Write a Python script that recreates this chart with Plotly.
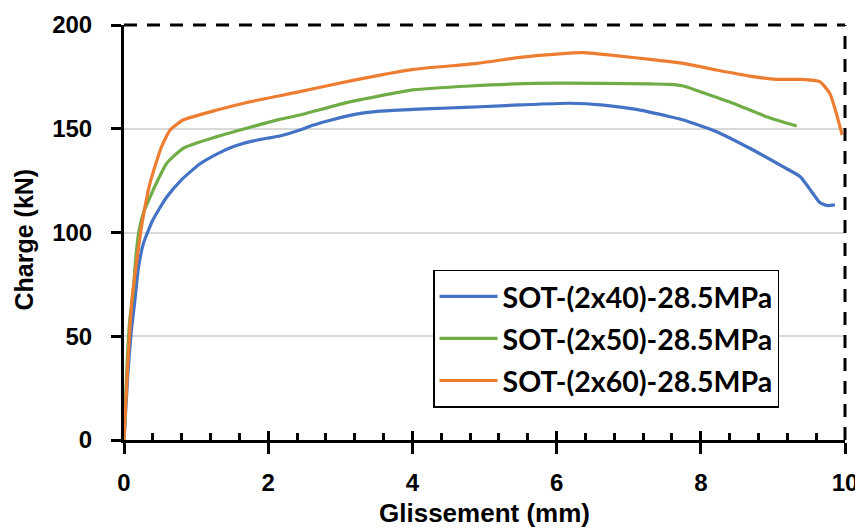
import plotly.graph_objects as go

# ---- data ----
x_blue = [0, 0.05, 0.1, 0.15, 0.2, 0.27, 0.4, 0.59, 0.8, 1.05, 1.3, 1.51, 1.75, 1.98, 2.16, 2.44,
          2.63, 2.85, 3.09, 3.3, 3.55, 4.01, 4.5, 4.94, 5.5, 6.19, 6.65, 7.11, 7.57, 7.76, 8.22,
          8.68, 9.14, 9.38, 9.51, 9.65, 9.75, 9.86]
y_blue = [0, 30, 52, 67, 83, 94.8, 106, 117, 125.5, 133, 138, 141.3, 143.8, 145.4, 146.5, 149.4,
          151.8, 154, 156.1, 157.5, 158.5, 159.3, 160, 160.6, 161.5, 162.3, 161.4, 159.3, 155.8, 154.2, 148.6,
          140.6, 131.7, 126.9, 121, 114.5, 113, 113.3]

x_green = [0, 0.04, 0.08, 0.13, 0.153, 0.2, 0.27, 0.36, 0.48, 0.59, 0.82, 1.29, 1.75, 2.16, 2.44,
           3.09, 4.01, 4.8, 5.72, 6.65, 7.3, 7.57, 7.76, 7.99, 8.45, 8.91, 9.33]
y_green = [0, 35, 58, 72, 83.5, 99, 109.5, 117, 126, 133.3, 140.6, 146.2, 150.7, 154.5, 156.6,
           162.6, 168.7, 170.6, 171.9, 171.9, 171.6, 171.4, 170.6, 167.9, 162.3, 155.8, 151.3]

x_orange = [0, 0.05, 0.11, 0.166, 0.25, 0.36, 0.52, 0.64, 0.82, 1.29, 1.75, 2.16, 2.44, 3.09, 4.01,
            4.9, 5.49, 6.0, 6.37, 6.88, 7.3, 7.76, 8.22, 8.68, 9.05, 9.38, 9.65, 9.79, 9.88, 9.96]
y_orange = [0, 35, 67.5, 83.5, 104.4, 123.7, 141.3, 149.4, 154.2, 159, 163, 165.9, 167.9, 172.7, 178.6,
            181.5, 184.4, 186, 186.7, 185, 183.4, 181.5, 178.3, 175.4, 173.8, 173.8, 172.7, 167, 157.4, 147]

names = ["SOT-(2x40)-28.5MPa", "SOT-(2x50)-28.5MPa", "SOT-(2x60)-28.5MPa"]
colors = ["#4472C4", "#70AD47", "#ED7D31"]
x_ticks = [0, 2, 4, 6, 8, 10]
y_ticks = [0, 50, 100, 150, 200]

TICKFONT = dict(family="Liberation Sans, Arial, sans-serif", size=24, color="black", weight="bold")
XTITLEFONT = dict(family="Liberation Sans, Arial, sans-serif", size=26, color="black", weight="bold")
YTITLEFONT = dict(family="Liberation Sans, Arial, sans-serif", size=25, color="black", weight="bold")

fig = go.Figure()
for i, (xs, ys) in enumerate([(x_blue, y_blue), (x_green, y_green), (x_orange, y_orange)]):
    fig.add_trace(go.Scatter(x=xs, y=ys, mode="lines", name=names[i], legendgroup=f"g{i}",
                             line=dict(color=colors[i], width=3.2, shape="spline", smoothing=0.5)))

# invisible trace on overlay axis for inner ticks
fig.add_trace(go.Scatter(x=[0, 10], y=[0, 0], xaxis="x2", yaxis="y", mode="lines",
                         line=dict(width=0), showlegend=False, hoverinfo="skip"))

fig.update_layout(
    width=855, height=520,
    margin=dict(l=116, r=18, t=17, b=88),
    paper_bgcolor="white", plot_bgcolor="white",
    showlegend=True,
    legend=dict(x=0.4286, y=0.41, xanchor="left", yanchor="top", xref="paper", yref="paper",
                bgcolor="white", bordercolor="black", borderwidth=1.5,
                font=dict(family="Lato, Open Sans, sans-serif", size=28.5, color="black", weight="bold"),
                traceorder="grouped", tracegroupgap=2, itemwidth=58),
    xaxis=dict(range=[0, 10], tickvals=x_ticks, ticktext=[str(v) for v in x_ticks],
               ticks="outside", ticklen=11, tickwidth=3, tickcolor="black", automargin=False,
               showline=True, linecolor="black", linewidth=3, showgrid=False, zeroline=False,
               tickfont=TICKFONT, ticklabelstandoff=8,
               title=dict(text="Glissement (mm)", font=XTITLEFONT, standoff=12)),
    xaxis2=dict(range=[0, 10], overlaying="x", side="bottom", tickvals=x_ticks, showticklabels=False,
                ticks="inside", ticklen=9, tickwidth=3, tickcolor="black", showgrid=False, zeroline=False,
                showline=False, automargin=False,
                minor=dict(ticks="inside", dtick=0.4, tick0=0, ticklen=7, tickwidth=2.5, tickcolor="black", showgrid=False)),
    yaxis=dict(range=[0, 200], tickvals=y_ticks, ticktext=[str(v) for v in y_ticks],
               ticks="outside", ticklen=10, tickwidth=3, tickcolor="black", automargin=False,
               showline=True, linecolor="black", linewidth=3,
               showgrid=True, gridcolor="#d9d9d9", gridwidth=1.5, zeroline=False,
               tickfont=TICKFONT, ticklabelstandoff=14),
    annotations=[
        dict(text="Charge (kN)", textangle=-90, xref="paper", yref="paper", x=0, y=0.5,
             xanchor="center", yanchor="middle", xshift=-101, yshift=-7, showarrow=False,
             font=YTITLEFONT),
    ],
    shapes=[
        dict(type="line", xref="paper", yref="paper", x0=0, x1=1, y0=1, y1=1,
             line=dict(color="black", width=3, dash="13px,10px")),
        dict(type="line", xref="paper", yref="paper", x0=1, x1=1, y0=0, y1=1,
             line=dict(color="black", width=3, dash="13px,10px")),
    ],
)

fig.write_html("out.html")
